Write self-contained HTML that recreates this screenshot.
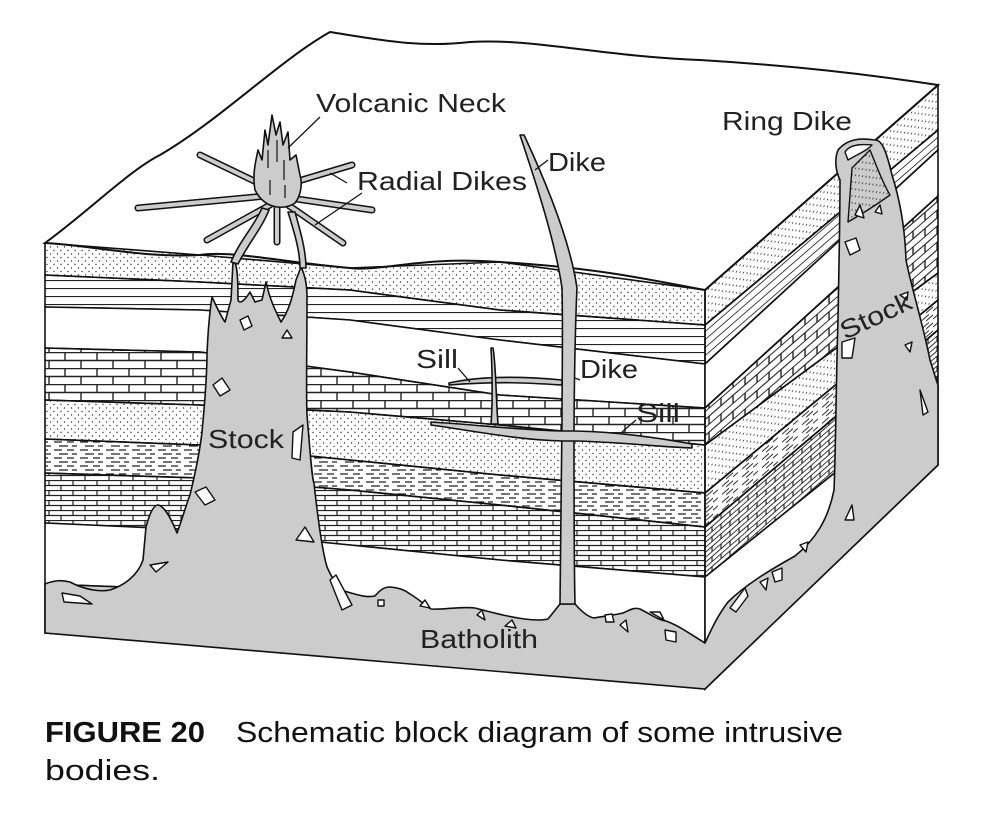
<!DOCTYPE html>
<html><head><meta charset="utf-8"><style>
html,body{margin:0;padding:0;background:#fff;}
svg{display:block;}
text{font-family:"Liberation Sans",sans-serif;fill:#222;}
.cap{font-family:"Liberation Sans Narrow","Liberation Sans",sans-serif;fill:#111;}
</style></head><body>
<svg id="fig" width="994" height="828" viewBox="0 0 994 828" xmlns="http://www.w3.org/2000/svg">
<defs>
<pattern id="dots" width="7" height="7" patternUnits="userSpaceOnUse"><circle cx="1.5" cy="2" r="0.7" fill="#333"/><circle cx="5" cy="5.5" r="0.7" fill="#333"/></pattern>
<pattern id="lines" width="10" height="8" patternUnits="userSpaceOnUse"><line x1="0" y1="0.5" x2="10" y2="0.5" stroke="#222" stroke-width="1.2"/></pattern>
<pattern id="brick" width="32" height="16" patternUnits="userSpaceOnUse"><path d="M0 0.5H32M0 8.5H32M1 0V8M17 8V16" stroke="#222" stroke-width="1.4" fill="none"/></pattern>
<pattern id="brick2" width="24" height="10" patternUnits="userSpaceOnUse"><path d="M0 0.5H24M0 5.5H24M1 0V5M13 5V10" stroke="#222" stroke-width="1.2" fill="none"/></pattern>
<pattern id="dash" width="26" height="8" patternUnits="userSpaceOnUse"><path d="M2 2H10M15 2H22M7 6H16M20 6H25" stroke="#222" stroke-width="1.3"/></pattern>
<pattern id="dotsR" width="7" height="7" patternUnits="userSpaceOnUse" patternTransform="skewY(-41)"><circle cx="1.5" cy="2" r="0.7" fill="#333"/><circle cx="5" cy="5.5" r="0.7" fill="#333"/></pattern>
<pattern id="linesR" width="10" height="8" patternUnits="userSpaceOnUse" patternTransform="skewY(-41)"><line x1="0" y1="0.5" x2="10" y2="0.5" stroke="#222" stroke-width="1.2"/></pattern>
<pattern id="brickR" width="24" height="16" patternUnits="userSpaceOnUse" patternTransform="skewY(-41)"><path d="M0 0.5H24M0 8.5H24M1 0V8M13 8V16" stroke="#222" stroke-width="1.4" fill="none"/></pattern>
<pattern id="brick2R" width="18" height="10" patternUnits="userSpaceOnUse" patternTransform="skewY(-41)"><path d="M0 0.5H18M0 5.5H18M1 0V5M10 5V10" stroke="#222" stroke-width="1.2" fill="none"/></pattern>
<pattern id="dashR" width="20" height="8" patternUnits="userSpaceOnUse" patternTransform="skewY(-41)"><path d="M2 2H9M13 2H18M6 6H13" stroke="#222" stroke-width="1.3"/></pattern>
</defs>
<g id="layers"></g>
<g id="intrusions"></g>
<g id="labels"></g>
</svg>
<script>
const NS="http://www.w3.org/2000/svg";
const xs=[45,200,350,500,705];
const bounds=[
 [243,255,268,262,290],
 [275,282,290,310,325],
 [307,310,320,340,364],
 [348,352,372,395,408],
 [400,405,412,425,445],
 [439,445,460,475,493],
 [473,478,490,505,527],
 [523,530,545,560,577],
 [584,590,600,620,643],
 [633,645,658,670,689]];
const backY=[85,130,150,196,273,300,330,390,440,465];
const fills=["dots","lines","#fff","brick","dots","dash","brick2","#fff","#ccc"];
const fillsR=["dotsR","linesR","#fff","brickR","dotsR","dashR","brick2R","#fff","#ccc"];
const layerNames=["sandstone-top","shale-lines","clay","limestone-upper","sandstone-middle","shale-dashed","limestone-lower","clay-lower","base"];
const LG=document.getElementById('layers');
function mk(tag,attrs,parent){const e=document.createElementNS(NS,tag);for(const k in attrs)e.setAttribute(k,attrs[k]);(parent||LG).appendChild(e);return e;}
function pat(f){return f.startsWith('#')?f:'url(#'+f+')';}
const topSurf=mk('path',{d:"M45,243 C90,210 130,170 160,155 C220,120 280,60 330,32 C380,40 420,48 470,42 C530,38 600,56 700,60 C800,66 880,76 938,85 L705,290 C650,280 600,268 500,262 C420,256 380,272 350,268 C280,262 230,250 200,255 C140,258 90,245 45,243Z",fill:"#fff",stroke:"#111","stroke-width":2});


for(let i=0;i<fills.length;i++){
 const a=bounds[i],b=bounds[i+1];
 let d="M"+xs.map((x,j)=>x+","+a[j]).join(" L")+" L"+xs.slice().reverse().map((x,j)=>x+","+b[b.length-1-j]).join(" L")+"Z";
 const p=mk('path',{d:d,fill:pat(fills[i]),stroke:"#111","stroke-width":1.6});
 
 
 const q=mk('path',{d:`M705,${a[4]} L938,${backY[i]} L938,${backY[i+1]} L705,${b[4]}Z`,fill:pat(fillsR[i]),stroke:"#111","stroke-width":1.6});
 
 
}
const IG=document.getElementById('intrusions');
function shape(name,d,fill,sw){const p=mk('path',{d:d,fill:fill||"#ccc",stroke:"#111","stroke-width":sw||1.6,"stroke-linejoin":"round"},IG);return p;}
shape('batholith-and-stocks',"M45,633 L45,584 C55,580 62,580 70,582 C85,590 100,592 110,590 C125,585 138,575 143,560 L146,527 C150,512 154,505 158,505 C164,506 170,516 177,533 C182,520 186,505 190,495 C196,470 200,450 202,432 C205,400 207,370 207,354 C208,330 210,310 212,297 C218,310 222,318 225,322 L231,300 L233,262 C236,262 238,268 238,300 C240,305 245,300 250,292 L255,302 L262,300 L266,282 C270,300 275,310 281,322 C288,312 292,300 296,280 L301,267 C305,275 307,285 307,297 C307,350 306,390 307,415 C310,450 312,480 314,483 C318,520 322,550 327,567 C333,580 338,588 344,591 C355,594 365,598 375,596 C380,590 384,587 390,587 C400,588 405,590 410,594 C420,600 426,606 431,609 C445,610 460,606 475,608 C490,612 505,616 518,618 C530,620 540,621 548,619 L560,604 L575,604 C582,612 588,617 594,618 C605,616 615,615 623,613 C630,610 634,607 640,609 C650,614 658,620 666,621 C680,626 693,636 705,643 C712,628 718,615 728,602 C745,585 770,570 795,556 C815,540 828,520 834,490 C836,440 836,380 838,320 C839,260 840,220 840,180 C836,172 834,160 838,150 C848,138 862,138 875,140 C882,140 886,150 892,175 C900,200 905,230 906,260 C912,290 922,320 930,360 C934,372 936,380 938,385 L938,465 L705,689 L45,633Z");
shape('ring-dike-hole',"M845,152 C850,144 862,144 872,145 C868,150 858,154 848,160 Z","#fff",1.4);
shape('ring-dike-block',"M848,222 L852,168 L870,150 C878,170 884,185 890,195 C876,205 862,214 848,222Z","url(#dotsR)",1.4);
shape('dike',"M520,135 C535,180 555,240 562,288 C563,330 562,380 562,420 C561,480 561,560 560,604 L575,604 C574,560 574,480 574,440 C574,400 575,330 577,288 C570,240 545,180 524,135Z");
shape('sill-lower',"M431,422 C480,425 520,430 562,431 L575,431 C620,432 660,438 692,444 L692,448 C660,447 620,442 575,441 L562,441 C520,440 480,432 431,425Z");
shape('sill-upper',"M449,383 C480,376 520,376 562,380 L562,385 C530,383 500,381 449,385Z");
shape('sill-feeder',"M491,348 C492,365 493,400 491,424 L498,424 C496,400 496,365 493,348Z");
const dikes=[[277,192,200,155],[277,195,138,208],[270,205,207,240],[285,185,352,165],[290,198,372,210],[288,205,343,243],[277,205,277,242]];
for(let i=0;i<dikes.length;i++){const d=dikes[i];
 const g1=mk('line',{x1:d[0],y1:d[1],x2:d[2],y2:d[3],stroke:"#111","stroke-width":7,"stroke-linecap":"round"},IG);
 
 
 const g2=mk('line',{x1:d[0],y1:d[1],x2:d[2],y2:d[3],stroke:"#ccc","stroke-width":4,"stroke-linecap":"round"},IG);
 
 
}
shape('neck-feeder-left',"M262,208 C255,225 240,240 231,262 L238,264 C248,244 262,228 269,210Z");
shape('neck-feeder-right',"M288,212 C294,232 300,250 300,268 L306,268 C306,250 300,230 295,212Z");
shape('volcanic-neck',"M255,190 C252,175 256,160 258,150 L262,160 L265,130 L268,145 L272,115 L276,135 L280,122 L283,145 L288,132 L290,160 L296,155 L300,175 C303,185 300,197 295,203 C285,210 265,210 255,190Z");
const neckMarks=["M268,150 V168","M277,140 V162","M284,160 V180","M270,180 V195","M285,185 V198"];
neckMarks.forEach(m=>{const p=mk('path',{d:m,stroke:"#111","stroke-width":1.2,fill:"none"},IG);});
const frags=["M213,385 L222,378 L230,390 L220,396Z","M293,432 L303,425 L300,460 L292,458Z","M195,492 L206,487 L215,500 L205,505Z","M296,540 L305,527 L314,542Z","M150,565 L168,562 L156,572Z","M62,593 L80,596 L92,604 L64,602Z","M330,580 L336,575 L352,605 L342,610Z","M378,600 L384,600 L384,606 L378,606Z","M420,606 L425,600 L430,608Z","M477,615 L482,610 L485,620Z","M505,626 L512,620 L516,628Z","M605,615 L612,614 L614,622 L606,622Z","M620,625 L626,620 L628,632Z","M650,612 L660,612 L664,620Z","M665,630 L676,632 L676,642 L666,640Z","M730,608 L745,588 L748,596 L736,612Z","M760,582 L768,578 L766,590Z","M772,572 L782,568 L782,580 L775,582Z","M800,545 L808,542 L806,552Z","M845,520 L852,505 L854,520Z","M920,390 L928,412 L923,415Z","M845,242 L856,238 L860,250 L850,255Z","M842,342 L855,338 L852,358 L842,358Z","M905,345 L912,342 L910,352Z","M855,215 L860,205 L864,218Z","M875,212 L880,205 L882,214Z","M900,295 L908,292 L907,300Z","M240,320 L248,316 L252,326 L244,330Z","M282,338 L287,330 L292,338Z"];
frags.forEach(f=>shape('xenolith',f,"#fff",1.4));
const leaders=[[320,117,288,148],[347,183,330,173],[362,193,315,225],[548,160,535,170],[458,368,470,382],[580,380,575,378],[636,420,622,432]];
leaders.forEach(l=>{const e=mk('line',{x1:l[0],y1:l[1],x2:l[2],y2:l[3],stroke:"#111","stroke-width":1.3},IG);});
const TG=document.getElementById('labels');
function lab(name,txt,x,y,size,len,extra){const e=mk('text',Object.assign({x:x,y:y,"font-size":size,textLength:len,lengthAdjust:"spacingAndGlyphs"},extra||{}),TG);e.textContent=txt;return e;}
lab('label-volcanic-neck','Volcanic Neck',316,112,26,190);
lab('label-radial-dikes','Radial Dikes',357,190,26,170);
lab('label-dike-top','Dike',548,171,26,58);
lab('label-ring-dike','Ring Dike',722,130,26,130);
lab('label-sill-upper','Sill',416,368,26,42);
lab('label-dike-middle','Dike',580,378,26,58);
lab('label-sill-lower','Sill',636,422,26,44);
lab('label-stock-left','Stock',208,448,26,76);
lab('label-batholith','Batholith',420,648,26,118);
lab('label-stock-right','Stock',845,340,26,76,{transform:"rotate(-25 845 340)"});
lab('caption-figure-number','FIGURE 20',45,742,29,160,{"font-weight":"bold",class:"cap"});
lab('caption-text','Schematic block diagram of some intrusive',236,742,29,607,{class:"cap"});
lab('caption-text-line2','bodies.',45,780,29,115,{class:"cap"});
</script>
</body></html>
